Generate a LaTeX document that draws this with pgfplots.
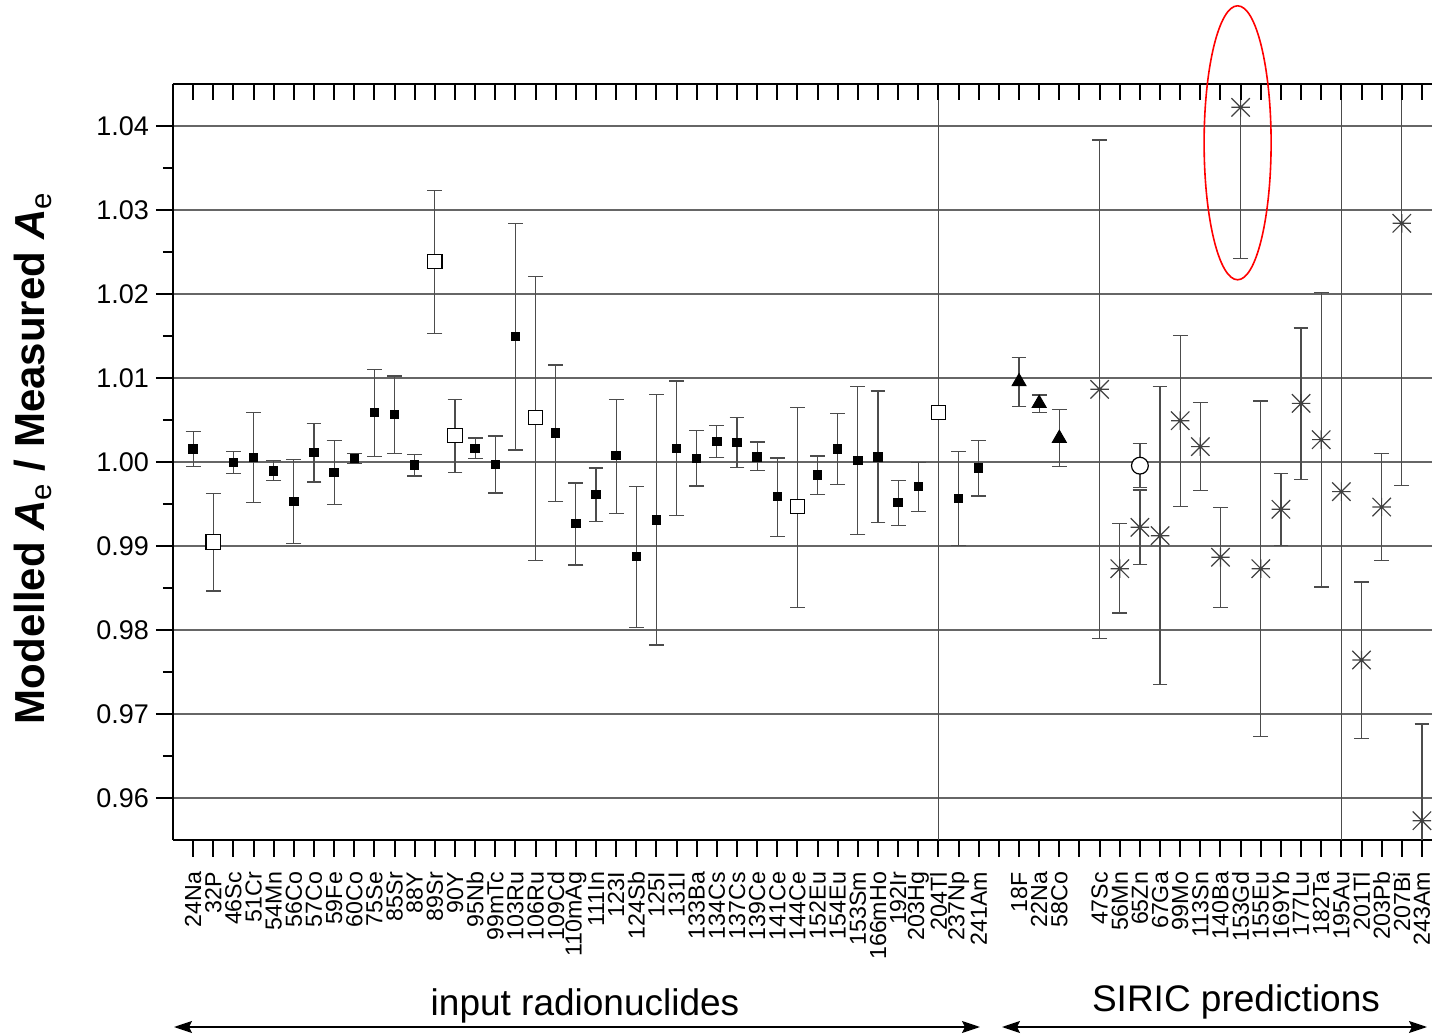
\documentclass[border=0pt]{standalone}
\usepackage{fontspec}
\setmainfont{Liberation Sans}
\usepackage{pgfplots}
\pgfplotsset{compat=1.18}
\usepackage{pgfplotstable}
\usetikzlibrary{arrows.meta}

% asterisk made of a cross and the two diagonals of a square
\pgfdeclareplotmark{ostar}{%
  \pgfpathmoveto{\pgfqpoint{-\pgfplotmarksize}{0pt}}%
  \pgfpathlineto{\pgfqpoint{\pgfplotmarksize}{0pt}}%
  \pgfpathmoveto{\pgfqpoint{0pt}{-\pgfplotmarksize}}%
  \pgfpathlineto{\pgfqpoint{0pt}{\pgfplotmarksize}}%
  \pgfpathmoveto{\pgfqpoint{-\pgfplotmarksize}{-\pgfplotmarksize}}%
  \pgfpathlineto{\pgfqpoint{\pgfplotmarksize}{\pgfplotmarksize}}%
  \pgfpathmoveto{\pgfqpoint{-\pgfplotmarksize}{\pgfplotmarksize}}%
  \pgfpathlineto{\pgfqpoint{\pgfplotmarksize}{-\pgfplotmarksize}}%
  \pgfusepathqstroke}

% x = position, y = ratio, hi/lo = ends of the uncertainty bar
\pgfplotstableread{
x  y       hi      lo
1  1.00155 1.00360 0.99944
3  0.99992 1.00123 0.99865
4  1.00055 1.00591 0.99516
5  0.99893 1.00016 0.99778
6  0.99532 1.00032 0.99032
7  1.00111 1.00460 0.99762
8  0.99873 1.00254 0.99492
9  1.00040 1.00099 0.99980
10 1.00587 1.01103 1.00063
11 1.00567 1.01024 1.00103
12 0.99964 1.00091 0.99833
15 1.00163 1.00286 1.00040
16 0.99972 1.00310 0.99631
17 1.01492 1.02837 1.00143
19 1.00345 1.01155 0.99532
20 0.99266 0.99750 0.98774
21 0.99615 0.99929 0.99290
22 1.00075 1.00746 0.99389
23 0.98873 0.99706 0.98032
24 0.99310 1.00802 0.97821
25 1.00163 1.00964 0.99361
26 1.00044 1.00373 0.99714
27 1.00246 1.00433 1.00052
28 1.00234 1.00532 0.99933
29 1.00060 1.00238 0.99901
30 0.99587 1.00048 0.99115
32 0.99845 1.00071 0.99611
33 1.00155 1.00580 0.99730
34 1.00016 1.00897 0.99135
35 1.00060 1.00845 0.99282
36 0.99516 0.99778 0.99242
37 0.99706 0.99992 0.99413
39 0.99568 1.00123 0.99004
40 0.99929 1.00254 0.99595
}\inputfilled

\pgfplotstableread{
x  y       hi      lo
2  0.99048 0.99627 0.98464
13 1.02385 1.03230 1.01532
14 1.00313 1.00746 0.99873
18 1.00528 1.02206 0.98830
31 0.99468 1.00651 0.98270
38 1.00587 1.20000 0.80000
}\inputopen

\pgfplotstableread{
x  y       hi      lo
42 1.00956 1.01242 1.00659
43 1.00698 1.00798 1.00587
44 1.00282 1.00627 0.99944
}\inputtri

\pgfplotstableread{
x  y       hi      lo
48 0.99956 1.00218 0.99694
}\siriccircle

\pgfplotstableread{
x  y       hi      lo
46 1.00865 1.03833 0.97897
47 0.98730 0.99266 0.98202
48 0.99222 0.99667 0.98782
49 0.99123 1.00897 0.97354
50 1.00492 1.01508 0.99472
51 1.00183 1.00710 0.99659
52 0.98865 0.99456 0.98270
53 1.04222 1.06020 1.02425
54 0.98730 1.00726 0.96735
55 0.99437 0.99865 0.99004
56 1.00698 1.01595 0.99794
57 1.00266 1.02016 0.98512
58 0.99647 1.20000 0.80000
59 0.97643 0.98571 0.96710
60 0.99464 1.00103 0.98825
61 1.02841 1.05960 0.99722
62 0.95730 0.96881 0.94580
}\siricstar

\pgfplotsset{
  ebars/.style={
    error bars/.cd, y dir=both, y explicit,
    error bar style={line width=0.6pt, black!70},
    error mark options={rotate=90, black!70, mark size=3.7pt, line width=0.6pt}},
}

\begin{document}
\begin{tikzpicture}
\begin{axis}[
  scale only axis, width=629.5pt, height=378pt,
  xmin=0, xmax=62.5, ymin=0.955, ymax=1.045,
  axis x line*=box, axis y line*=left,
  axis line style={line width=1.15pt, black},
  xtick={1,...,62},
  xticklabels={24Na,32P,46Sc,51Cr,54Mn,56Co,57Co,59Fe,60Co,75Se,85Sr,88Y,89Sr,90Y,95Nb,99mTc,103Ru,106Ru,109Cd,110mAg,111In,123I,124Sb,125I,131I,133Ba,134Cs,137Cs,139Ce,141Ce,144Ce,152Eu,154Eu,153Sm,166mHo,192Ir,203Hg,204Tl,237Np,241Am,{},18F,22Na,58Co,{},47Sc,56Mn,65Zn,67Ga,99Mo,113Sn,140Ba,153Gd,155Eu,169Yb,177Lu,182Ta,195Au,201Tl,203Pb,207Bi,243Am},
  xtick pos=left, ytick pos=left,
  tick align=outside,
  major tick length=8.5pt, minor tick length=5pt,
  every tick/.style={black, line width=1pt},
  ytick={0.96,0.97,0.98,0.99,1.00,1.01,1.02,1.03,1.04},
  minor y tick num=1,
  ymajorgrids, major grid style={line width=0.7pt, black!60},
  yticklabel style={font=\fontsize{13.5}{15}\selectfont,
    /pgf/number format/fixed, /pgf/number format/fixed zerofill,
    /pgf/number format/precision=2, /pgf/number format/assume math mode=true},
  xticklabel style={rotate=90, anchor=east, font=\fontsize{11.6}{12.5}\selectfont},
  xticklabel shift=4pt,
  ylabel={Modelled \textit{A}\textsubscript{\mdseries e} / Measured \textit{A}\textsubscript{\mdseries e}},
  every axis y label/.style={at={(axis description cs:-0.1112,0.505)}, rotate=90,
    anchor=center, font=\fontsize{21}{23}\selectfont\bfseries},
]
\addplot[only marks, mark=square*, mark size=2.1pt, mark options={fill=black, draw=black, line width=0.5pt}, ebars]
  table[x=x, y=y, y error plus expr=\thisrow{hi}-\thisrow{y}, y error minus expr=\thisrow{y}-\thisrow{lo}] {\inputfilled};
\addplot[only marks, mark=square*, mark size=3.6pt, mark options={fill=white, draw=black, line width=0.6pt}, ebars]
  table[x=x, y=y, y error plus expr=\thisrow{hi}-\thisrow{y}, y error minus expr=\thisrow{y}-\thisrow{lo}] {\inputopen};
\addplot[only marks, mark=triangle*, mark size=4pt, mark options={fill=black, draw=black, line width=0.5pt}, ebars]
  table[x=x, y=y, y error plus expr=\thisrow{hi}-\thisrow{y}, y error minus expr=\thisrow{y}-\thisrow{lo}] {\inputtri};
\addplot[only marks, mark=*, mark size=4.2pt, mark options={fill=white, draw=black, line width=0.6pt}, ebars]
  table[x=x, y=y, y error plus expr=\thisrow{hi}-\thisrow{y}, y error minus expr=\thisrow{y}-\thisrow{lo}] {\siriccircle};
\addplot[only marks, mark=ostar, mark size=4.6pt, mark options={draw=black!75, line width=0.6pt}, ebars]
  table[x=x, y=y, y error plus expr=\thisrow{hi}-\thisrow{y}, y error minus expr=\thisrow{y}-\thisrow{lo}] {\siricstar};
\coordinate (gd) at (axis cs:52.85,1.038);
\end{axis}
% inward ticks along the top edge
\begin{axis}[
  scale only axis, width=629.5pt, height=378pt,
  xmin=0, xmax=62.5, ymin=0.955, ymax=1.045,
  axis x line*=top, axis y line=none,
  axis line style={line width=1.15pt, black},
  xtick={1,...,62}, xticklabels={}, ytick=\empty,
  xtick pos=right, tick align=inside,
  major tick length=8pt,
  every tick/.style={black, line width=1pt},
]
\end{axis}
\draw[red, line width=0.8pt] (gd) ellipse [x radius=16.75pt, y radius=68.5pt];
\node[anchor=base, font=\fontsize{18.5}{20}\selectfont] at (206pt,-87.5pt) {input radionuclides};
\node[anchor=base, font=\fontsize{18.5}{20}\selectfont] at (531.5pt,-85.5pt) {SIRIC predictions};
\draw[line width=0.8pt, {Stealth[length=9pt,width=6pt,inset=1.5pt]}-{Stealth[length=9pt,width=6pt,inset=1.5pt]}]
  (0.5pt,-93.5pt) -- (403.5pt,-93.5pt);
\draw[line width=0.8pt, {Stealth[length=9pt,width=6pt,inset=1.5pt]}-{Stealth[length=9pt,width=6pt,inset=1.5pt]}]
  (414.5pt,-93.5pt) -- (627pt,-93.5pt);
\pgfresetboundingbox
\path[use as bounding box] (-86.5pt,-97.5pt) rectangle (629.5pt,420pt);
\end{tikzpicture}
\end{document}
